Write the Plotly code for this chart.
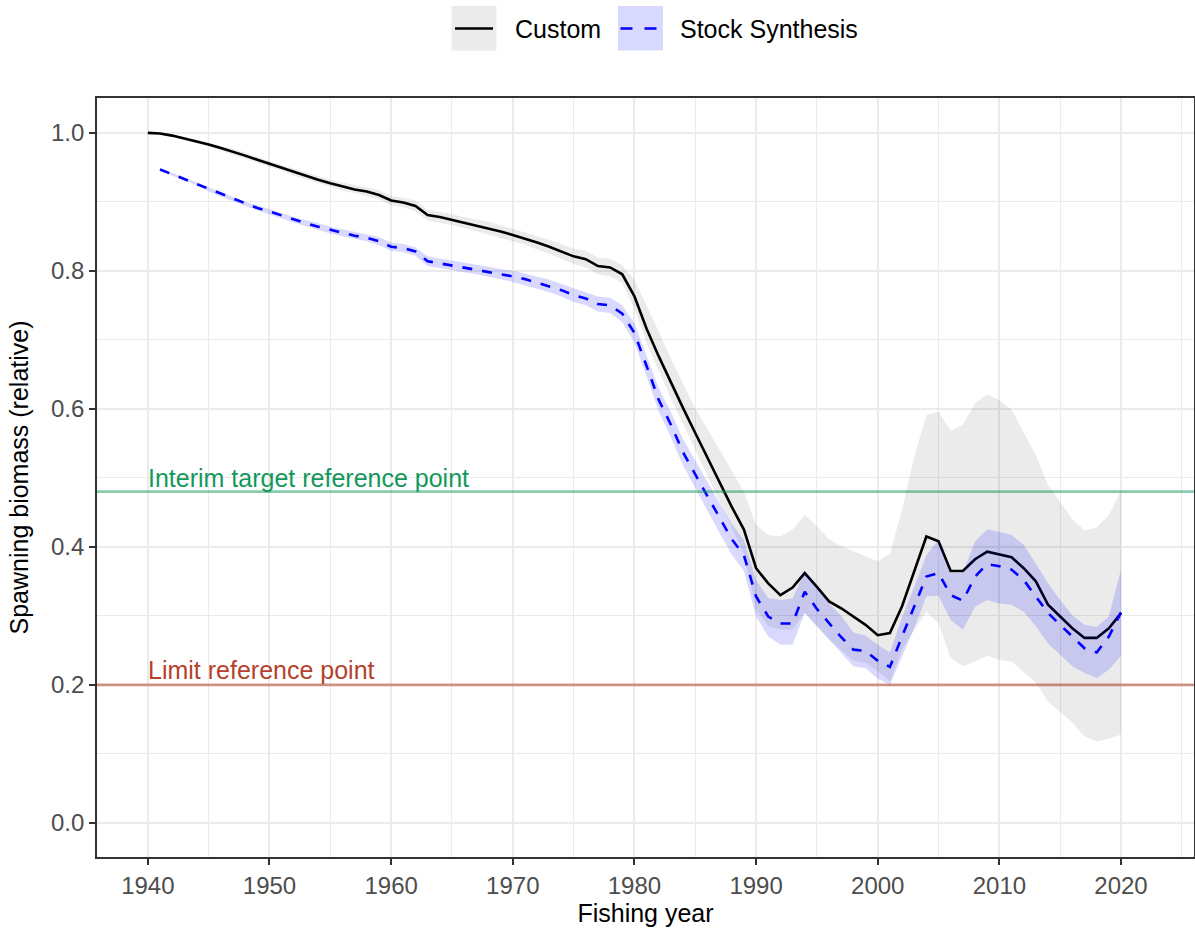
import plotly.graph_objects as go

# ---------------- data ----------------
years_custom = list(range(1940, 2021))
custom_mid = [
    1.000, 0.999, 0.996, 0.992, 0.988, 0.983, 0.978, 0.973, 0.967, 0.961,
    0.955, 0.949, 0.943, 0.938, 0.932, 0.927, 0.922, 0.918, 0.915, 0.910,
    0.902, 0.899, 0.894, 0.881, 0.878, 0.874, 0.870, 0.866, 0.862, 0.857,
    0.852, 0.847, 0.841, 0.835, 0.828, 0.821, 0.817, 0.807, 0.805, 0.795,
    0.763, 0.716, 0.676, 0.638, 0.601, 0.565, 0.529, 0.493, 0.458, 0.425,
    0.369, 0.347, 0.330, 0.341, 0.362, 0.342, 0.321, 0.311, 0.299, 0.287,
    0.272, 0.275, 0.314, 0.365, 0.415, 0.408, 0.365, 0.365, 0.382, 0.393,
    0.389, 0.385, 0.369, 0.350, 0.316, 0.299, 0.282, 0.268, 0.268, 0.282,
    0.304,
]
custom_upper = [
    1.000, 1.000, 0.998, 0.994, 0.991, 0.986, 0.981, 0.977, 0.971, 0.965,
    0.959, 0.953, 0.948, 0.943, 0.937, 0.932, 0.928, 0.924, 0.921, 0.917,
    0.909, 0.906, 0.902, 0.889, 0.886, 0.882, 0.878, 0.875, 0.871, 0.866,
    0.861, 0.856, 0.851, 0.845, 0.839, 0.832, 0.829, 0.819, 0.818, 0.808,
    0.787, 0.750, 0.712, 0.673, 0.636, 0.601, 0.571, 0.541, 0.510, 0.480,
    0.432, 0.417, 0.415, 0.425, 0.446, 0.430, 0.411, 0.401, 0.394, 0.387,
    0.379, 0.390, 0.454, 0.531, 0.591, 0.596, 0.568, 0.577, 0.608, 0.621,
    0.613, 0.599, 0.567, 0.533, 0.490, 0.465, 0.440, 0.424, 0.428, 0.446,
    0.482,
]
custom_lower = [
    1.000, 0.998, 0.994, 0.990, 0.985, 0.980, 0.975, 0.969, 0.963, 0.957,
    0.951, 0.945, 0.938, 0.933, 0.927, 0.922, 0.916, 0.912, 0.909, 0.903,
    0.895, 0.892, 0.886, 0.873, 0.870, 0.866, 0.862, 0.857, 0.853, 0.848,
    0.843, 0.838, 0.831, 0.825, 0.817, 0.810, 0.805, 0.795, 0.792, 0.782,
    0.745, 0.695, 0.655, 0.615, 0.578, 0.540, 0.503, 0.465, 0.428, 0.390,
    0.310, 0.285, 0.280, 0.280, 0.305, 0.285, 0.266, 0.250, 0.235, 0.232,
    0.220, 0.205, 0.251, 0.280, 0.306, 0.289, 0.239, 0.227, 0.234, 0.242,
    0.236, 0.234, 0.219, 0.203, 0.176, 0.161, 0.145, 0.125, 0.118, 0.122,
    0.128,
]

years_ss = list(range(1941, 2021))
ss_mid = [
    0.947, 0.940, 0.933, 0.926, 0.918, 0.911, 0.904, 0.897, 0.891,
    0.886, 0.880, 0.874, 0.869, 0.864, 0.859, 0.855, 0.851, 0.848, 0.843,
    0.835, 0.833, 0.828, 0.814, 0.811, 0.808, 0.805, 0.802, 0.799, 0.796,
    0.792, 0.788, 0.783, 0.778, 0.772, 0.765, 0.760, 0.752, 0.750, 0.738,
    0.710, 0.662, 0.613, 0.577, 0.537, 0.505, 0.473, 0.442, 0.411, 0.388,
    0.328, 0.299, 0.289, 0.289, 0.335, 0.310, 0.289, 0.269, 0.251, 0.249,
    0.235, 0.226, 0.270, 0.313, 0.357, 0.362, 0.330, 0.322, 0.357, 0.375,
    0.372, 0.367, 0.352, 0.328, 0.304, 0.287, 0.270, 0.253, 0.247, 0.270,
    0.305,
]
ss_upper = [
    0.949, 0.942, 0.935, 0.928, 0.921, 0.914, 0.907, 0.900, 0.895,
    0.890, 0.884, 0.878, 0.874, 0.869, 0.864, 0.860, 0.856, 0.853, 0.849,
    0.841, 0.839, 0.834, 0.821, 0.818, 0.815, 0.812, 0.809, 0.806, 0.804,
    0.800, 0.796, 0.792, 0.787, 0.781, 0.775, 0.770, 0.763, 0.761, 0.750,
    0.724, 0.677, 0.630, 0.595, 0.556, 0.525, 0.494, 0.464, 0.433, 0.410,
    0.352, 0.326, 0.323, 0.325, 0.364, 0.340, 0.318, 0.300, 0.276, 0.271,
    0.258, 0.247, 0.298, 0.342, 0.388, 0.410, 0.362, 0.362, 0.408, 0.425,
    0.422, 0.417, 0.403, 0.376, 0.347, 0.323, 0.301, 0.287, 0.284, 0.299,
    0.367,
]
ss_lower = [
    0.945, 0.938, 0.931, 0.924, 0.915, 0.908, 0.901, 0.894, 0.887,
    0.882, 0.876, 0.870, 0.864, 0.859, 0.854, 0.850, 0.846, 0.843, 0.837,
    0.829, 0.827, 0.822, 0.807, 0.804, 0.801, 0.798, 0.795, 0.792, 0.788,
    0.784, 0.780, 0.774, 0.769, 0.763, 0.755, 0.750, 0.741, 0.739, 0.726,
    0.696, 0.647, 0.596, 0.559, 0.518, 0.485, 0.452, 0.420, 0.389, 0.365,
    0.299, 0.270, 0.258, 0.258, 0.304, 0.284, 0.265, 0.246, 0.227, 0.224,
    0.209, 0.200, 0.242, 0.282, 0.328, 0.329, 0.294, 0.280, 0.313, 0.323,
    0.318, 0.316, 0.306, 0.285, 0.260, 0.244, 0.227, 0.217, 0.210, 0.222,
    0.242,
]

ref_values = [0.48, 0.2]
ref_labels = ["Interim target reference point", "Limit reference point"]
ref_text_colors = ["#13985C", "#B5412D"]
ref_line_colors = ["rgba(19,152,92,0.5)", "rgba(181,65,45,0.55)"]

series_names = ["Custom", "Stock Synthesis"]
x_tick_vals = list(range(1940, 2021, 10))
y_tick_vals = [0.0, 0.2, 0.4, 0.6, 0.8, 1.0]
y_tick_text = ["0.0", "0.2", "0.4", "0.6", "0.8", "1.0"]

# ---------------- styling ----------------
FONT = "Liberation Sans, Arial, Helvetica, sans-serif"
W, H = 1195, 928
ML, MR, MT, MB = 97, 1, 98, 71
GRAY_FILL = "rgba(0,0,0,0.08)"
BLUE_FILL = "rgba(0,0,255,0.15)"

fig = go.Figure()

# Custom ribbon
fig.add_trace(go.Scatter(
    x=years_custom + years_custom[::-1],
    y=custom_upper + custom_lower[::-1],
    fill="toself", fillcolor=GRAY_FILL, line=dict(width=0),
    mode="lines", showlegend=False, hoverinfo="skip"))
# Custom line
fig.add_trace(go.Scatter(
    x=years_custom, y=custom_mid, mode="lines", name=series_names[0],
    line=dict(color="#000000", width=2.6), showlegend=False))
# SS ribbon
fig.add_trace(go.Scatter(
    x=years_ss + years_ss[::-1],
    y=ss_upper + ss_lower[::-1],
    fill="toself", fillcolor=BLUE_FILL, line=dict(width=0),
    mode="lines", showlegend=False, hoverinfo="skip"))
# SS line
fig.add_trace(go.Scatter(
    x=years_ss, y=ss_mid, mode="lines", name=series_names[1],
    line=dict(color="#0000FF", width=2.6, dash="10px,10px"), showlegend=False))

# reference lines + labels
for v, lab, tc, lc, ys in zip(ref_values, ref_labels, ref_text_colors, ref_line_colors, [-2, -1]):
    fig.add_hline(y=v, line=dict(color=lc, width=2.6), layer="above")
    fig.add_annotation(x=years_custom[0], y=v, text=lab, showarrow=False,
                       xanchor="left", yanchor="bottom", xshift=-2, yshift=ys,
                       font=dict(family=FONT, size=25, color=tc))

# ---------------- manual legend (ggplot-style keys) ----------------
pw = W - ML - MR
ph = H - MT - MB
def px(xp):
    return (xp - ML) / pw
def py(yp):
    return (H - MB - yp) / ph

shapes = []
shapes.append(dict(type="rect", xref="paper", yref="paper",
                   x0=px(451.5), x1=px(496.5), y0=py(50.5), y1=py(6),
                   fillcolor="#EBEBEB", line=dict(width=0), layer="above"))
shapes.append(dict(type="rect", xref="paper", yref="paper",
                   x0=px(618), x1=px(663), y0=py(50.5), y1=py(6),
                   fillcolor="#D9D9FF", line=dict(width=0), layer="above"))
shapes.append(dict(type="line", xref="paper", yref="paper",
                   x0=px(455), x1=px(493), y0=py(28.5), y1=py(28.5),
                   line=dict(color="#000000", width=2.6), layer="above"))
shapes.append(dict(type="line", xref="paper", yref="paper",
                   x0=px(620.5), x1=px(660), y0=py(28.5), y1=py(28.5),
                   line=dict(color="#0000FF", width=2.6, dash="12px,12px"), layer="above"))
for s in shapes:
    fig.add_shape(**s)

fig.add_annotation(xref="paper", yref="paper", x=px(513), y=py(29),
                   text=series_names[0], showarrow=False, xanchor="left", yanchor="middle",
                   font=dict(family=FONT, size=25, color="#000000"))
fig.add_annotation(xref="paper", yref="paper", x=px(678), y=py(29),
                   text=series_names[1], showarrow=False, xanchor="left", yanchor="middle",
                   font=dict(family=FONT, size=25, color="#000000"))

# ---------------- axes ----------------
axis_common = dict(
    showline=True, linecolor="#333333", linewidth=1.6, mirror=True,
    ticks="outside", ticklen=6, tickwidth=1.6, tickcolor="#333333",
    showgrid=True, gridcolor="#EBEBEB", gridwidth=2,
    zeroline=False,
    tickfont=dict(family=FONT, size=24, color="#4D4D4D"),
)
fig.update_xaxes(
    range=[1935.82, 2026.0], tickvals=x_tick_vals,
    minor=dict(dtick=5, tick0=1935, showgrid=True, gridcolor="#EBEBEB", gridwidth=1, ticks=""),
    title=dict(text="Fishing year", font=dict(family=FONT, size=25, color="#000000"), standoff=7),
    **axis_common)
fig.update_yaxes(
    range=[-0.0495, 1.0505], tickvals=y_tick_vals, ticktext=y_tick_text,
    minor=dict(dtick=0.1, tick0=0, showgrid=True, gridcolor="#EBEBEB", gridwidth=1, ticks=""),
    title=dict(text="Spawning biomass (relative)", font=dict(family=FONT, size=25, color="#000000"), standoff=15),
    **axis_common)

fig.update_layout(
    width=W, height=H,
    margin=dict(l=ML, r=MR, t=MT, b=MB, autoexpand=False),
    plot_bgcolor="#FFFFFF", paper_bgcolor="#FFFFFF",
    showlegend=False,
    font=dict(family=FONT),
)

fig.write_html("out.html")
